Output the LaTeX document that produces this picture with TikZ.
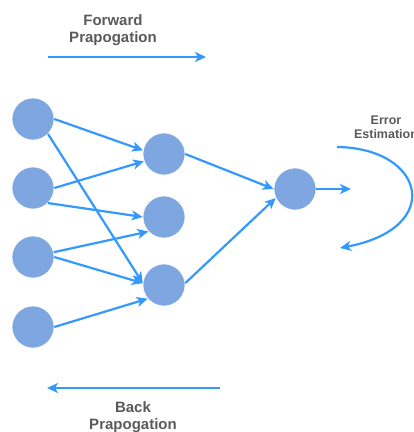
\documentclass[tikz,border=0pt]{standalone}
\usepackage{fontspec}
\setmainfont{Liberation Sans}
\usetikzlibrary{arrows.meta}
\definecolor{nodefill}{HTML}{7EA6E0}
\definecolor{edgeblue}{HTML}{3399FF}
\definecolor{labelgray}{HTML}{5A5A5A}
\begin{document}
\begin{tikzpicture}[x=1pt,y=-1pt,
  neuron/.style={circle,fill=nodefill,draw=white,line width=0.6pt,minimum size=42pt,inner sep=0pt},
  link/.style={draw=edgeblue,line width=2.2pt,-{Stealth[length=11pt,width=10pt,inset=3pt]}},
  lbl/.style={text=labelgray,font=\bfseries\fontsize{15}{17.5}\selectfont,align=center,inner sep=0pt},
  smalllbl/.style={text=labelgray,font=\bfseries\fontsize{12.5}{14}\selectfont,align=center,inner sep=0pt}]
\useasboundingbox (0,0) rectangle (414,432);
\clip (0,0) rectangle (414,432);
% nodes
\node[neuron] (i1) at (33,119) {};
\node[neuron] (i2) at (33,188) {};
\node[neuron] (i3) at (33,257) {};
\node[neuron] (i4) at (33,327) {};
\node[neuron] (h1) at (164,154) {};
\node[neuron] (h2) at (164,217) {};
\node[neuron] (h3) at (164,285) {};
\node[neuron] (o) at (295,189) {};
\coordinate (oend) at (351,189);
% edges
\draw[link] (i1.0) -- (h1.170);
\draw[link] (i1.-45) -- (h3.175);
\draw[link] (i2.0) -- (h1.200);
\draw[link] (i2.-45) -- (h2.180);
\draw[link] (i3.13) -- (h2.223);
\draw[link] (i3.0) -- (h3.175);
\draw[link] (i4.0) -- (h3.220);
\draw[link] (h1.0) -- (o.180);
\draw[link] (h3.5) -- (o.205);
\draw[link] (o.0) -- (oend);
% error estimation loop
\coordinate (es) at (337,147);
\coordinate (ee) at (340,248);
\draw[link] (es) .. controls (425,148) and (445,228) .. (ee);
\node[smalllbl] (errlbl) at (386,127) {Error\\Estimation};
% forward propagation
\node[lbl] (fwdlbl) at (113,30) {Forward\\Prapogation};
\coordinate (fs) at (48,57);
\coordinate (fe) at (206,57);
\draw[link] (fs) -- (fe);
% back propagation
\coordinate (bs) at (220,388);
\coordinate (be) at (47,388);
\draw[link] (bs) -- (be);
\node[lbl] (backlbl) at (133,417) {Back\\Prapogation};
\end{tikzpicture}
\end{document}
